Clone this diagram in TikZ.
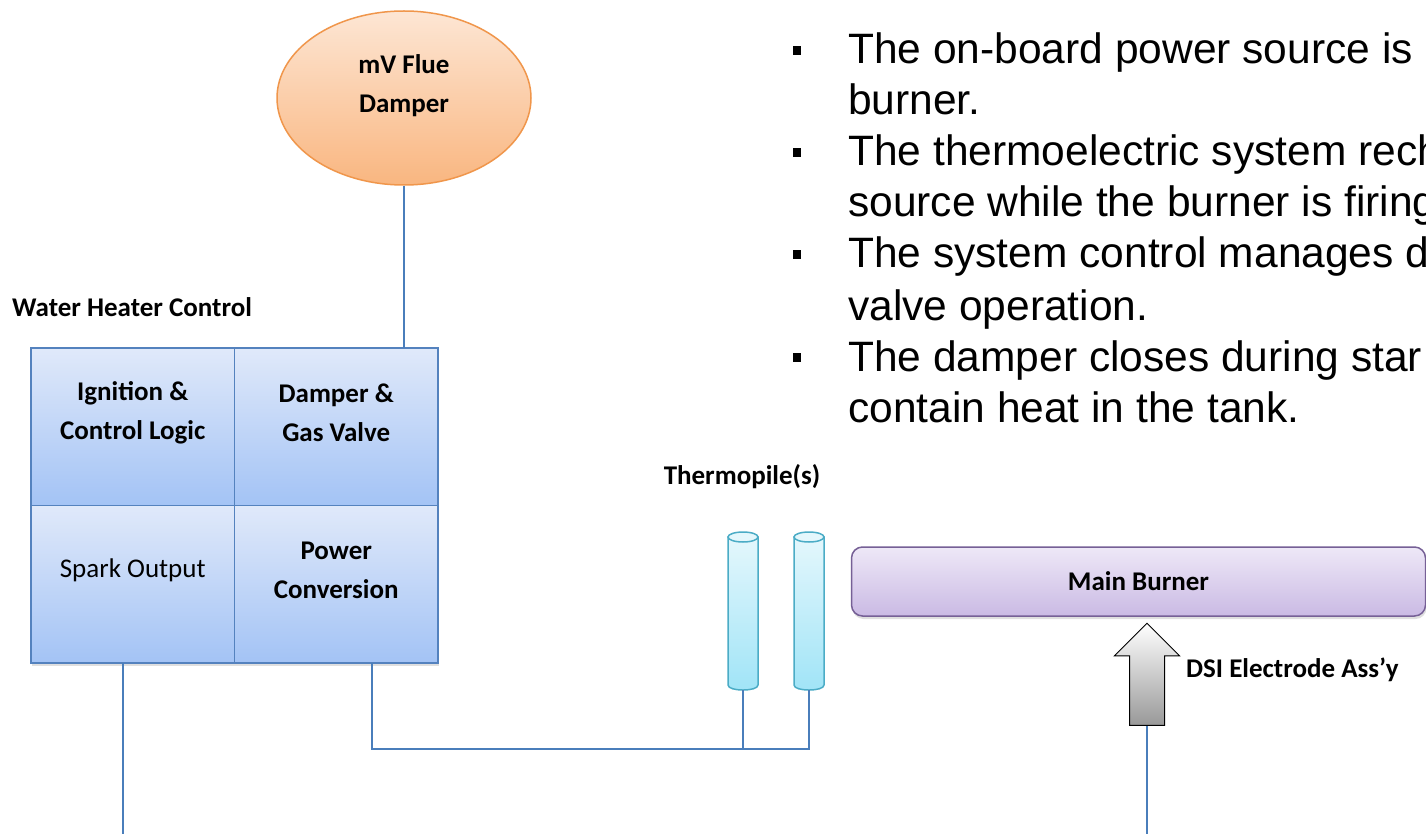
\documentclass[tikz,border=0pt]{standalone}
\usepackage{fontspec}
\setmainfont{Carlito}
\newfontfamily\arialfont{Liberation Sans}
\usetikzlibrary{positioning,shapes.geometric,shapes.arrows,shadows,calc}
\definecolor{wireblue}{RGB}{74,126,187}
\definecolor{cellline}{RGB}{84,130,190}
\definecolor{celltop}{RGB}{224,233,250}
\definecolor{cellbot}{RGB}{163,195,245}
\definecolor{damperline}{RGB}{240,150,75}
\definecolor{dampertop}{RGB}{253,230,212}
\definecolor{damperbot}{RGB}{249,182,128}
\definecolor{pileline}{RGB}{75,172,198}
\definecolor{piletop}{RGB}{228,247,252}
\definecolor{pilebot}{RGB}{160,228,247}
\definecolor{burnline}{RGB}{118,96,150}
\definecolor{burntop}{RGB}{238,232,247}
\definecolor{burnbot}{RGB}{202,186,228}

\begin{document}
\begin{tikzpicture}[x=1pt,y=-1pt,
    cell/.style={draw=cellline,line width=1.5pt,top color=celltop,
                 bottom color=cellbot,minimum width=203.5pt,
                 minimum height=157.5pt,inner sep=0pt,outer sep=0pt},
    celltext/.style={font=\fontsize{27}{39}\selectfont\bfseries,
                     align=center,yshift=14pt},
    wire/.style={draw=wireblue,line width=1.5pt},
    tag/.style={font=\fontsize{27}{32}\selectfont\bfseries,inner sep=0pt},
    pile/.style={minimum width=30pt,minimum height=158pt,inner sep=0pt,
                 outer sep=0pt},
    pilebody/.style={draw=pileline,line width=1.5pt,top color=piletop,
                     bottom color=pilebot},
    pilecap/.style={ellipse,draw=pileline,line width=1.5pt,fill=piletop,
                    minimum width=30pt,minimum height=10pt,inner sep=0pt},
    bulletsq/.style={fill=black,minimum width=8pt,minimum height=9pt,
                     inner sep=0pt},
    bulletline/.style={font=\arialfont\fontsize{42.5}{51}\selectfont,
                       inner sep=0pt,anchor=base west}]
        \useasboundingbox (0,0) rectangle (1426,834);
        \fill[white] (0,0) rectangle (1426,834);
        \clip (0,0) rectangle (1426,834);

        % flue damper
        \node[ellipse,draw=damperline,line width=1.5pt,top color=dampertop,
              bottom color=damperbot,minimum width=254pt,minimum height=174pt,
              inner sep=0pt,
              label={[celltext,yshift=-2pt]center:{mV Flue\\Damper}}]
              (damper) at (404,98) {};

        % control block
        \node[tag,anchor=west] (wht) at (12,307) {Water Heater Control};
        \node[cell,drop shadow={opacity=0.25,shadow xshift=1pt,shadow yshift=-3pt},
              label={[celltext]center:{Ignition \&\\Control Logic}}]
              (ign) at (132.75,426.75) {};
        \node[cell,right=0pt of ign,
              label={[celltext]center:{Damper \&\\Gas Valve}}] (dgv) {};
        \node[cell,below=0pt of ign,
              drop shadow={opacity=0.25,shadow xshift=1pt,shadow yshift=-3pt},
              label={[celltext,font=\fontsize{27}{39}\selectfont]center:Spark Output}]
              (spark) {};
        \node[cell,right=0pt of spark,
              drop shadow={opacity=0.25,shadow xshift=1pt,shadow yshift=-3pt},
              label={[celltext]center:{Power\\Conversion}}] (power) {};

        % thermopiles
        \node[tag] (tplabel) at (742,477) {Thermopile(s)};
        \node[pile] (tp1) at (743,611) {};
        \node[pile] (tp2) at (809,611) {};
        \foreach \t in {tp1,tp2} {
          \draw[pilebody] ($(\t.north west)+(0,5)$) -- ($(\t.south west)+(0,-5)$)
              .. controls ($(\t.south west)+(0,1.7)$) and ($(\t.south east)+(0,1.7)$)
              .. ($(\t.south east)+(0,-5)$) -- ($(\t.north east)+(0,5)$) -- cycle;
          \node[pilecap] (\t cap) at ($(\t.north)+(0,5)$) {};
        }

        % main burner
        \node[draw=burnline,line width=1.5pt,top color=burntop,
              bottom color=burnbot,rounded corners=11pt,minimum width=574pt,
              minimum height=69pt,inner sep=0pt,
              drop shadow={opacity=0.25,shadow xshift=1pt,shadow yshift=-3pt},
              font=\fontsize{27}{32}\selectfont\bfseries]
              (burner) at (1138.5,581.5) {Main Burner};

        % electrode
        \node[single arrow,shape border rotate=90,draw=black,line width=1pt,
              top color=white,bottom color=black!40,minimum height=102pt,
              single arrow head extend=15pt,single arrow head indent=0pt,
              inner xsep=17pt,inner ysep=0pt]
              (dsi) at (1147,683) {};
        \node[tag,anchor=west] (dsilabel) at (1186,670) {DSI Electrode Ass’y};

        % wiring
        \coordinate (sparkend) at (123,834);
        \coordinate (pwrjoin) at (372,749);
        \coordinate (dsiend) at (1147,834);
        \draw[wire] (damper.south) -- (damper.south |- dgv.north);
        \draw[wire] (sparkend |- spark.south) -- (sparkend);
        \draw[wire] (pwrjoin |- power.south) -- (pwrjoin)
                    -- (tp2.south |- pwrjoin) -- (tp2.south);
        \draw[wire] (tp1.south) -- (tp1.south |- pwrjoin);
        \draw[wire] (dsi.tail) -- (dsiend);

        % bullet list
        \foreach \y in {51,153,255,357}
          \node[bulletsq] at (797,\y) {};
        \node[bulletline] (ln1) at (848,64) {The on-board power source is};
        \node[bulletline] (ln2) at (848,115) {burner.};
        \node[bulletline] (ln3) at (848,166) {The thermoelectric system rech};
        \node[bulletline] (ln4) at (848,217) {source while the burner is firing};
        \node[bulletline] (ln5) at (848,268) {The system control manages d};
        \node[bulletline] (ln6) at (848,320) {valve operation.};
        \node[bulletline] (ln7) at (848,371) {The damper closes during star};
        \node[bulletline] (ln8) at (848,422) {contain heat in the tank.};
\end{tikzpicture}
\end{document}
